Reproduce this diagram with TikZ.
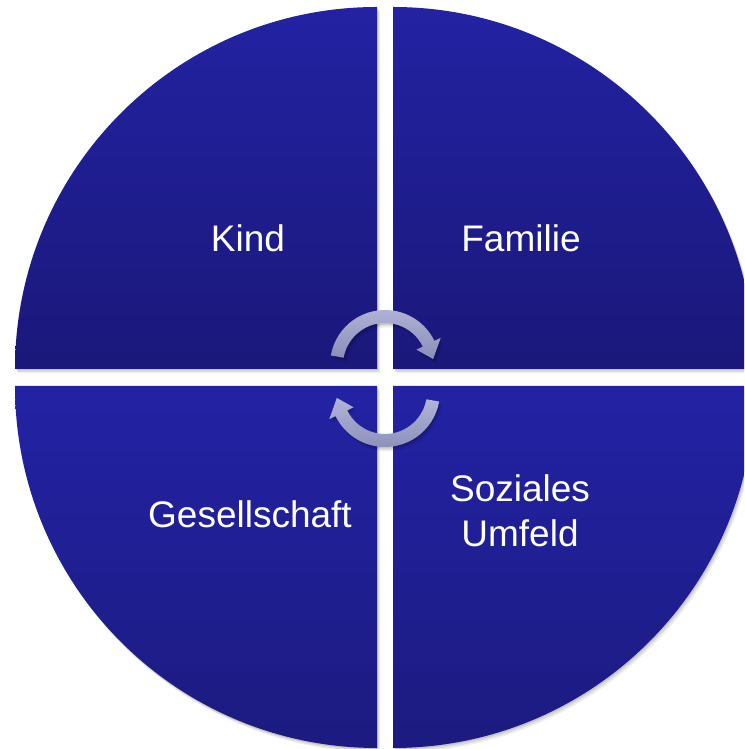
\documentclass[tikz,border=0pt]{standalone}
\usepackage{fontspec}
\setmainfont{Liberation Sans}
\usetikzlibrary{calc}
\definecolor{qtop}{RGB}{35,34,162}
\definecolor{qbot}{RGB}{26,24,122}
\definecolor{qtopB}{RGB}{35,34,164}
\definecolor{qbotB}{RGB}{28,27,128}
\definecolor{arrlight}{RGB}{178,181,214}
\definecolor{arrdark}{RGB}{138,141,184}
\tikzset{
  softshadow/.style={
    preaction={fill=black, opacity=0.10, transform canvas={shift={(1pt,-1.5pt)}}},
    preaction={fill=black, opacity=0.08, transform canvas={shift={(2pt,-3pt)}}},
    preaction={fill=black, opacity=0.06, transform canvas={shift={(3pt,-4.5pt)}}}},
  quadtop/.style={top color=qtop, bottom color=qbot, softshadow},
  quadbot/.style={top color=qtopB, bottom color=qbotB, softshadow},
  arrowshape/.style={top color=arrlight, bottom color=arrdark, softshadow},
  label/.style={text=white, font=\fontsize{37}{45}\selectfont, align=center, inner sep=0pt}
}
\begin{document}
\begin{tikzpicture}[x=1pt,y=1pt]
\useasboundingbox (0,0) rectangle (744,749);
\fill[white] (0,0) rectangle (744,749);
\clip (0,0) rectangle (744,749);
% quadrants
\path[quadtop] (377,380) -- (15,380) arc[start angle=180,end angle=90,radius=362] -- cycle;
\path[quadtop] (393,380) -- (393,742) arc[start angle=90,end angle=0,radius=362] -- cycle;
\path[quadbot] (377,363) -- (377,1) arc[start angle=270,end angle=180,radius=362] -- cycle;
\path[quadbot] (393,363) -- (755,363) arc[start angle=0,end angle=-90,radius=362] -- cycle;
% arrow centres
\coordinate (c1) at (385,384);
\coordinate (c2) at (385,357);
% top arrow (clockwise)
\path[arrowshape] ($(c1)+(170:55)$) arc[start angle=170,end angle=26,radius=55]
  -- ($(c1)+(26:62)$) -- ($(c1)+(7:48.5)$) -- ($(c1)+(26:35)$)
  -- ($(c1)+(26:42)$) arc[start angle=26,end angle=170,radius=42] -- cycle;
% bottom arrow
\path[arrowshape] ($(c2)+(-10:55)$) arc[start angle=-10,end angle=-154,radius=55]
  -- ($(c2)+(-154:62)$) -- ($(c2)+(-173:48.5)$) -- ($(c2)+(-154:35)$)
  -- ($(c2)+(-154:42)$) arc[start angle=-154,end angle=-10,radius=42] -- cycle;
% labels
\node[label, anchor=base] (kind) at (248,497) {Kind};
\node[label, anchor=base] (familie) at (521,497) {Familie};
\node[label, anchor=base] (gesellschaft) at (250,221) {Gesellschaft};
\node[label] (sozial) at (520,238) {Soziales\\Umfeld};
\end{tikzpicture}
\end{document}
